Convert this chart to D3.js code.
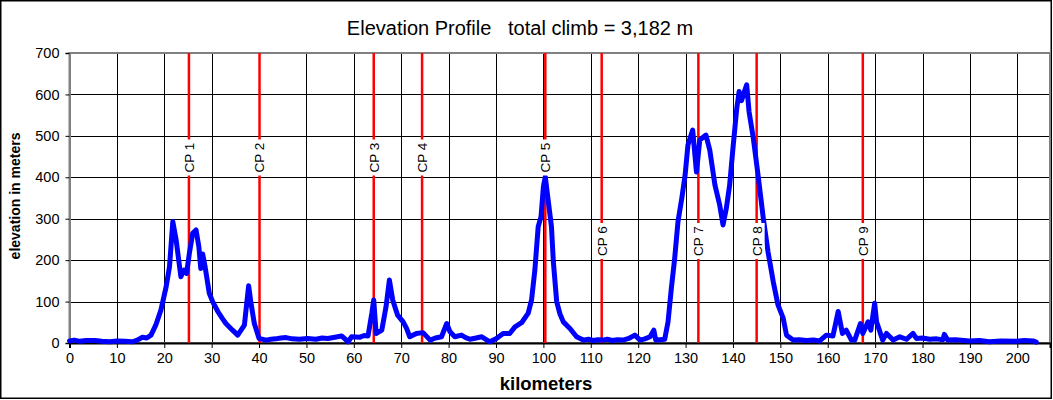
<!DOCTYPE html>
<html><head><meta charset="utf-8">
<script src="https://cdn.jsdelivr.net/npm/d3@7"></script>
<style>body{margin:0;background:#fff}svg{display:block}text{font-family:Arial,"Liberation Sans",sans-serif}</style>
</head><body><svg id="c" width="1053" height="400"></svg>
<script>
const kmValues = [0,1.0,2.2,3.5,5.4,6.8,8.5,10.0,11.7,13.3,14.3,15.4,16.3,17.2,18.2,19.3,20.4,21.1,21.8,22.5,23.5,24.2,24.7,25.3,26.0,26.7,27.3,27.7,28.1,28.6,29.5,30.2,31.3,32.2,33.0,34.4,35.5,36.9,37.8,38.3,39.0,40.0,41.5,42.5,43.5,44.6,45.7,47.0,48.5,50.2,52.0,53.3,54.5,56.0,57.4,58.8,59.5,61.3,62.2,63.0,63.8,64.2,64.7,65.9,66.8,67.5,68.2,69.2,70.4,71.1,71.8,73.2,74.6,76.1,77.2,78.5,79.6,80.3,81.3,82.7,83.6,84.5,85.8,87.0,88.7,90.1,91.5,92.9,94.0,95.4,96.8,97.5,98.2,98.9,99.5,100.0,100.4,101.0,101.7,102.1,102.8,103.5,104.2,105.6,107.0,108.4,109.5,110.5,111.5,112.6,113.5,114.5,115.6,116.8,118.0,119.3,120.4,121.4,122.5,123.3,123.7,124.6,125.6,126.3,127.0,127.7,128.4,129.2,129.9,130.5,131.5,132.3,133.0,134.3,135.1,136.2,137.2,137.9,138.6,139.3,140.0,140.8,141.3,141.8,142.3,142.9,143.4,144.3,145.3,146.4,147.4,148.5,149.5,150.6,151.3,152.7,154.0,155.5,157.0,158.3,159.7,161.1,162.2,163.1,163.9,165.0,165.7,166.9,167.4,168.5,169.1,169.9,170.3,171.6,172.4,173.8,175.2,176.6,178.0,178.7,180.0,181.5,183.0,184.3,184.6,185.3,187.0,189.9,192.0,194.1,196.5,199.8,201.5,203.3,204.0];
const elevation = [5,7,4,6,6,4,3,5,4,3,7,14,12,19,43,80,136,184,293,249,160,176,168,217,265,273,232,180,215,185,120,100,76,60,47,31,19,43,138,96,47,11,7,9,10,12,13,10,9,11,9,12,11,14,17,3,15,14,18,17,72,104,23,31,88,152,104,68,51,36,15,23,25,7,12,15,47,27,15,19,13,9,12,15,3,11,23,23,39,49,72,104,176,281,305,377,401,345,281,196,100,70,51,35,15,7,9,6,8,7,9,6,8,7,11,19,7,10,15,31,7,8,9,51,132,204,293,349,405,478,514,413,490,502,466,381,333,285,325,381,470,566,607,585,603,623,558,494,405,301,220,148,92,60,19,7,8,6,7,5,19,17,76,23,31,7,7,47,23,51,31,96,51,7,23,7,15,9,23,11,12,9,10,8,21,7,8,5,6,3,5,4,6,5,2];
const cpNames = ["CP 1","CP 2","CP 3","CP 4","CP 5","CP 6","CP 7","CP 8","CP 9"];
const cpKm = [25.2,40.1,64.2,74.4,100.4,112.3,132.7,145.0,167.4];
const cpLabelLevel = [450,450,450,450,450,250,250,250,250];
const xTicks = d3.range(0,201,10);
const yTicks = d3.range(0,701,100);
const titleText = "Elevation Profile   total climb = 3,182 m";

const svg = d3.select("#c");
const L=69.5, R=1050, T=53, B=343;
const x = d3.scaleLinear().domain([0,206.9]).range([L,R]);
const y = d3.scaleLinear().domain([0,700]).range([B,T]);

svg.append("rect").attr("x",0.75).attr("y",0.75).attr("width",1050.5).attr("height",397.5)
  .attr("fill","#fff").attr("stroke","#000").attr("stroke-width",1.5);

svg.append("g").selectAll("line").data(yTicks.filter(d=>d>0&&d<700)).join("line")
  .attr("x1",L).attr("x2",R).attr("y1",d=>Math.round(y(d))+0.5).attr("y2",d=>Math.round(y(d))+0.5)
  .attr("stroke","#000").attr("stroke-width",1);
svg.append("g").selectAll("line").data(xTicks.filter(d=>d>0)).join("line")
  .attr("x1",d=>Math.round(x(d))+0.5).attr("x2",d=>Math.round(x(d))+0.5).attr("y1",T).attr("y2",B)
  .attr("stroke","#000").attr("stroke-width",1);

svg.append("rect").attr("x",L).attr("y",T).attr("width",R-L).attr("height",B-T)
  .attr("fill","none").attr("stroke","#808080").attr("stroke-width",2);

const yAxis = d3.axisLeft(y).tickValues(yTicks).tickSize(4).tickPadding(6);
const gy = svg.append("g").attr("transform",`translate(${L},0)`).call(yAxis);
gy.select(".domain").attr("stroke","#808080").attr("stroke-width",2);
gy.selectAll("text").attr("font-size",14.5).attr("fill","#000").attr("font-family","Arial, 'Liberation Sans', sans-serif");

const xAxis = d3.axisBottom(x).tickValues(xTicks).tickSize(5).tickPadding(5);
const gx = svg.append("g").attr("transform",`translate(0,${B})`).call(xAxis);
gx.select(".domain").attr("stroke","#000").attr("stroke-width",2);
gx.selectAll("text").attr("font-size",14.5).attr("fill","#000").attr("font-family","Arial, 'Liberation Sans', sans-serif");

const cps = cpNames.map((n,i)=>({n,km:cpKm[i],lv:cpLabelLevel[i]}));
svg.append("g").selectAll("line").data(cps).join("line")
  .attr("x1",d=>x(d.km)).attr("x2",d=>x(d.km)).attr("y1",T).attr("y2",B)
  .attr("stroke","#ff0000").attr("stroke-width",2.5);

const data = kmValues.map((k,i)=>[k,elevation[i]]);
svg.append("path").datum(data)
  .attr("fill","none").attr("stroke","#0000ff").attr("stroke-width",5)
  .attr("stroke-linejoin","round").attr("stroke-linecap","round")
  .attr("d",d3.line().x(d=>x(d[0])).y(d=>y(d[1])));

const lg = svg.append("g").selectAll("g").data(cps).join("g")
  .attr("transform",d=>`translate(${x(d.km)},${d.lv===450?157.5:241}) rotate(-90)`);
lg.append("rect").attr("x",-18).attr("y",-8).attr("width",36).attr("height",16).attr("fill","#fff");
lg.append("text").attr("text-anchor","middle").attr("dy","0.36em").attr("font-size",13.5).attr("fill","#000").text(d=>d.n);

svg.append("text").attr("x",520).attr("y",35).attr("text-anchor","middle").attr("font-size",20)
  .attr("xml:space","preserve").style("white-space","pre").text(titleText);
svg.append("text").attr("transform","translate(20,196) rotate(-90)").attr("text-anchor","middle")
  .attr("font-size",14).attr("font-weight","bold").text("elevation in meters");
svg.append("text").attr("x",546).attr("y",390).attr("text-anchor","middle")
  .attr("font-size",18.5).attr("font-weight","bold").text("kilometers");
</script></body></html>
